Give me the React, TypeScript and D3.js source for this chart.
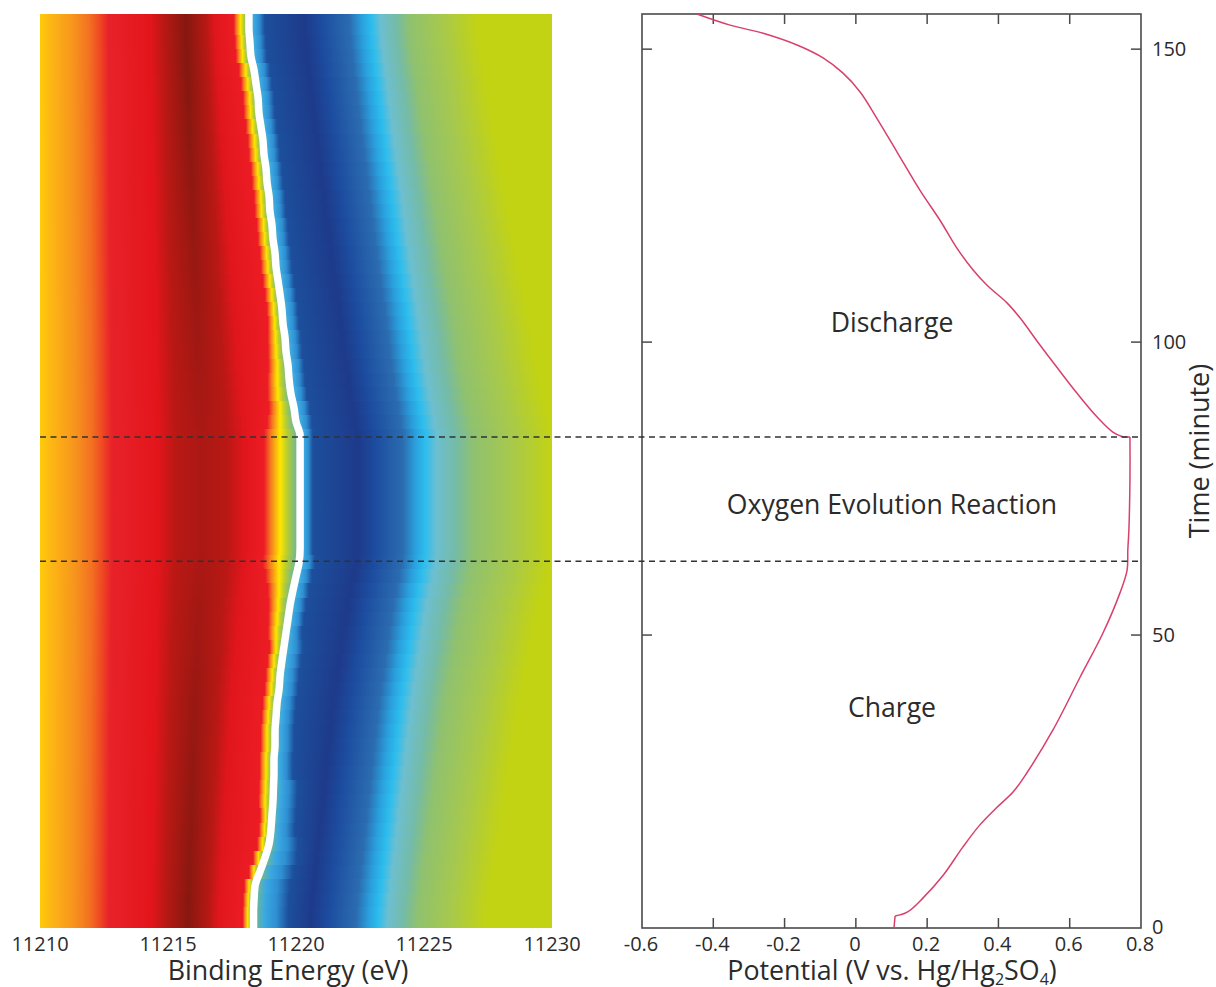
import React from "react";
import * as d3 from "d3";

// Heat-map: energy of the white ridge for each scan (one scan every 2.4 minutes, from t=0)
const scanStep = 2.4;
const ridgeEnergy = [
  11218.34, 11218.34, 11218.36, 11218.40, 11218.59, 11218.79, 11218.95, 11219.02, 11219.06, 11219.10,
  11219.12, 11219.14, 11219.14, 11219.18, 11219.18, 11219.22, 11219.26, 11219.34, 11219.38, 11219.45,
  11219.53, 11219.61, 11219.69, 11219.77, 11219.88, 11220.00, 11220.12, 11220.16, 11220.16, 11220.16,
  11220.16, 11220.16, 11220.16, 11220.16, 11220.16, 11220.16, 11220.00, 11219.92, 11219.80, 11219.73,
  11219.69, 11219.61, 11219.57, 11219.49, 11219.45, 11219.38, 11219.30, 11219.22, 11219.18, 11219.10,
  11219.06, 11218.98, 11218.95, 11218.87, 11218.83, 11218.75, 11218.71, 11218.63, 11218.55, 11218.52,
  11218.44, 11218.36, 11218.24, 11218.20, 11218.16, 11218.16,
];
// Offset (eV) of the broad bands away from the ridge zone, for the same scans
const bandOffset = [
  -1.85, -1.82, -1.78, -1.72, -1.66, -1.6, -1.54, -1.48, -1.42, -1.36,
  -1.3, -1.24, -1.18, -1.12, -1.06, -1.0, -0.94, -0.86, -0.78, -0.7,
  -0.62, -0.54, -0.46, -0.38, -0.26, -0.14, -0.04, 0, 0, 0,
  0, 0, 0, 0, 0, 0, -0.1, -0.18, -0.28, -0.36,
  -0.44, -0.52, -0.58, -0.66, -0.72, -0.8, -0.88, -0.96, -1.02, -1.1,
  -1.16, -1.24, -1.3, -1.38, -1.44, -1.52, -1.58, -1.66, -1.72, -1.78,
  -1.84, -1.92, -1.98, -2.04, -2.08, -2.1,
];
// Width of the yellow/green fringe (left of the ridge) and light-blue fringe (right of it), per scan
const warmFringe = [
  0.3, 0.3, 0.3, 0.3, 0.3, 0.33, 0.33, 0.33, 0.33, 0.4,
  0.4, 0.4, 0.4, 0.4, 0.4, 0.4, 0.4, 0.4, 0.4, 0.4,
  0.4, 0.5, 0.55, 0.6, 0.7, 0.85, 1, 1, 1, 1,
  1, 1, 1, 1, 1, 1, 0.8, 0.7, 0.65, 0.6,
  0.55, 0.5, 0.48, 0.42, 0.42, 0.42, 0.42, 0.42, 0.42, 0.42,
  0.42, 0.42, 0.42, 0.42, 0.42, 0.42, 0.42, 0.42, 0.42, 0.42,
  0.42, 0.42, 0.42, 0.42, 0.42, 0.42,
];
const coolFringe = [
  2.2, 2.2, 2.2, 2.2, 2.1, 2, 1.8, 1.5, 1.5, 1.5,
  1.5, 1.2, 1.2, 1.2, 1.2, 1.2, 1.2, 1.2, 1.2, 1.2,
  1.2, 1, 1, 1, 1, 1, 1, 0.8, 0.8, 0.8,
  0.8, 0.8, 0.8, 0.8, 0.8, 0.8, 1, 1, 1, 1,
  1, 1, 1, 1, 1, 1, 1, 1, 1, 1,
  1, 1, 1, 1, 1, 1, 1, 1, 1, 1,
  1, 1, 1, 1, 1, 1,
];
const referenceRidge = 11220.16;

// Colour profile of a scan at the reference ridge position
const profileEnergy = [
  11210.0, 11210.39, 11211.37, 11212.03, 11212.42, 11212.81, 11214.61, 11215.3, 11216.33, 11217.3, 11217.97,
  11218.75, 11219.02, 11219.38, 11219.65, 11219.88, 11220.36, 11220.56, 11220.78, 11222.42, 11223.09, 11224.18, 11224.65,
  11225.04, 11225.51, 11226.21, 11226.94, 11228.48, 11230.0,
];
const profileColor = [
  "#ffcb0a", "#fdb913", "#f7941d", "#f37021", "#ef4a23", "#e8222a", "#e3151b", "#b91814", "dark", "#b91814", "#e0161c",
  "#ed1c24", "#f57e20", "#ffe600", "#b9ce2e", "#8cc06e", "#3aa8e2", "#2f8fd2", "#1c4f9c", "#1e3a8a", "#1c4c9f", "#2b6cb0", "#2a9fdc",
  "#2cbdee", "#6dbfd0", "#74bba8", "#8fc16f", "#a8c94a", "#c2d314",
];
// Which feature each stop follows: band, warm fringe or cool fringe
const profileAnchor = [
  "band", "band", "band", "band", "band", "band", "band", "band", "band", "band", "band",
  "warm", "warm", "warm", "warm", "warm", "cool", "cool", "cool", "band", "band", "band", "band",
  "band", "band", "band", "band", "band", "band",
];
const profileFollow = [
  0, 0.02, 0.03, 0.05, 0.05, 0.07, 0.15, 0.22, 0.3, 0.38, 0.55,
  1, 1, 1, 1, 1, 1, 1, 1, 1, 1, 1, 1,
  1, 1.05, 1.1, 1.2, 1.3, 1.4,
];
const darkRedColors = ["#ab1814", "#851810"];

// Potential vs time
const potential = [
  0.107, 0.11, 0.144, 0.188, 0.245, 0.3, 0.348, 0.396, 0.441, 0.48, 0.553, 0.629, 0.693, 0.741, 0.761, 0.763, 0.766,
  0.769, 0.769, 0.75, 0.722, 0.677, 0.62, 0.564, 0.508, 0.461, 0.424, 0.368, 0.329, 0.284, 0.236, 0.18, 0.116,
  0.059, 0.012, -0.036, -0.092, -0.165, -0.26, -0.353, -0.446,
];
const potentialTime = [
  0, 2.05, 2.7, 5.1, 9.0, 13.8, 17.6, 20.6, 23.2, 26.5, 33.8, 42.8, 50.3, 57.2, 61.1, 64.5, 67.9,
  76.5, 83.8, 83.8, 84.6, 87.2, 91.3, 95.7, 100.2, 104.1, 106.7, 109.7, 112.3, 116.0, 120.8, 125.9, 132.4,
  138.2, 142.7, 145.9, 148.5, 150.7, 152.7, 154.1, 156,
];

const energyTicks = [11210, 11215, 11220, 11225, 11230];
const potentialTicks = [-0.6, -0.4, -0.2, 0, 0.2, 0.4, 0.6, 0.8];
const timeTicks = [0, 50, 100, 150];
const regionBoundaries = [83.8, 62.6];
const regionLabels = ["Discharge", "Oxygen Evolution Reaction", "Charge"];
const regionLabelTimes = [103.3, 72.2, 37.6];

const FONT = "'Open Sans', sans-serif";
const INK = "#2b2b2b";
const AXIS = "#4a4a4a";

const timeMax = 156;
const y = d3.scaleLinear().domain([0, timeMax]).range([928, 14]);
const xE = d3.scaleLinear().domain([11210, 11230]).range([40, 552]);
const xV = d3.scaleLinear().domain([-0.6, 0.8]).range([642, 1141]);

export default function App() {
  const rows = ridgeEnergy.map((r, i) => ({
    t: i * scanStep,
    band: bandOffset[i],
    warm: warmFringe[i],
    cool: coolFringe[i],
    ridge: r,
  }));
  const idx = potential.map((_, i) => i);
  const curve = d3
    .line<number>()
    .x((i) => xV(potential[i]))
    .y((i) => y(potentialTime[i]))
    .curve(d3.curveCatmullRom.alpha(0.5));
  const straight = d3
    .line<number>()
    .x((i) => xV(potential[i]))
    .y((i) => y(potentialTime[i]));
  const ridgeLine = d3
    .line<(typeof rows)[number]>()
    .x((d) => xE(d.ridge))
    .y((d) => y(d.t))
    .curve(d3.curveMonotoneY);
  const dark = d3.interpolateRgb(darkRedColors[0], darkRedColors[1]);

  const stopEnergy = (row: (typeof rows)[number], j: number) => {
    const e = profileEnergy[j];
    if (profileAnchor[j] === "warm") return row.ridge - (referenceRidge - e) * row.warm;
    if (profileAnchor[j] === "cool") return row.ridge + (e - referenceRidge) * row.cool;
    return e + row.band * profileFollow[j];
  };

  return (
    <svg
      width={1216}
      height={987}
      viewBox="0 0 1216 987"
      style={{ position: "absolute", left: 0, top: 0, display: "block", background: "#fff" }}
    >
      <defs>
        {rows.map((row, i) => {
          let last = 0;
          return (
            <linearGradient
              key={i}
              id={`scan${i}`}
              gradientUnits="userSpaceOnUse"
              x1={xE(11210)}
              x2={xE(11230)}
              y1={0}
              y2={0}
            >
              {profileEnergy.map((_, j) => {
                last = Math.max(last, (xE(stopEnergy(row, j)) - xE(11210)) / (xE(11230) - xE(11210)));
                return (
                  <stop
                    key={j}
                    offset={last}
                    stopColor={profileColor[j] === "dark" ? dark(Math.min(1, -row.band / 1.9)) : profileColor[j]}
                  />
                );
              })}
            </linearGradient>
          );
        })}
        <clipPath id="heat">
          <rect x={xE(11210)} y={y(timeMax)} width={xE(11230) - xE(11210)} height={y(0) - y(timeMax)} />
        </clipPath>
      </defs>

      <g clipPath="url(#heat)">
        {rows.map((row, i) => {
          const top = Math.round(y(Math.min(timeMax, row.t + scanStep / 2)));
          const bottom = Math.round(y(Math.max(0, row.t - scanStep / 2)));
          return (
            <rect
              key={i}
              x={xE(11210)}
              y={top}
              width={xE(11230) - xE(11210)}
              height={bottom - top}
              fill={`url(#scan${i})`}
              shapeRendering="crispEdges"
            />
          );
        })}
        <path d={ridgeLine(rows) ?? ""} fill="none" stroke="#fff" strokeWidth={7.5} />
      </g>

      {/* Potential panel */}
      <rect
        x={xV(-0.6)}
        y={y(timeMax)}
        width={xV(0.8) - xV(-0.6)}
        height={y(0) - y(timeMax)}
        fill="none"
        stroke={AXIS}
        strokeWidth={1.6}
      />
      {potentialTicks.slice(1, -1).map((v) => (
        <g key={v} stroke={AXIS} strokeWidth={1.5}>
          <line x1={xV(v)} x2={xV(v)} y1={y(0)} y2={y(0) - 10} />
          <line x1={xV(v)} x2={xV(v)} y1={y(timeMax)} y2={y(timeMax) + 10} />
        </g>
      ))}
      {timeTicks.slice(1).map((t) => (
        <g key={t} stroke={AXIS} strokeWidth={1.5}>
          <line x1={xV(-0.6)} x2={xV(-0.6) + 10} y1={y(t)} y2={y(t)} />
          <line x1={xV(0.8)} x2={xV(0.8) - 10} y1={y(t)} y2={y(t)} />
        </g>
      ))}
      {[idx.slice(1, 19), idx.slice(19)].map((seg, k) => (
        <path key={k} d={curve(seg) ?? ""} fill="none" stroke="#d8406c" strokeWidth={1.5} />
      ))}
      {[idx.slice(0, 2), idx.slice(18, 20)].map((seg, k) => (
        <path key={k} d={straight(seg) ?? ""} fill="none" stroke="#d8406c" strokeWidth={1.5} />
      ))}

      {/* Region boundaries */}
      {regionBoundaries.map((t) => (
        <line
          key={t}
          x1={xE(11210)}
          x2={xV(0.8)}
          y1={y(t)}
          y2={y(t)}
          stroke="#2f3336"
          strokeWidth={1.5}
          strokeDasharray="6 4.5"
        />
      ))}

      <g fontFamily={FONT} fill={INK}>
        {energyTicks.map((e) => (
          <text key={e} x={xE(e)} y={951} fontSize={20} textAnchor="middle">
            {e}
          </text>
        ))}
        {potentialTicks.map((v) => (
          <text key={v} x={xV(v) - 1} y={951} fontSize={20} textAnchor="middle">
            {v}
          </text>
        ))}
        {timeTicks.map((t) => (
          <text key={t} x={1152} y={y(t) + (t === 0 ? 6 : 7)} fontSize={20} textAnchor="start">
            {t}
          </text>
        ))}
        {regionLabels.map((label, i) => (
          <text key={label} x={892} y={y(regionLabelTimes[i]) + 9} fontSize={26.6} textAnchor="middle">
            {label}
          </text>
        ))}
        <text x={288} y={980} fontSize={26.8} textAnchor="middle">
          Binding Energy (eV)
        </text>
        <text x={892} y={980} fontSize={26.8} textAnchor="middle">
          Potential (V vs. Hg/Hg
          <tspan fontSize={16} dy={5}>2</tspan>
          <tspan dy={-5}>SO</tspan>
          <tspan fontSize={16} dy={5}>4</tspan>
          <tspan dy={-5}>)</tspan>
        </text>
        <text transform="translate(1209,451) rotate(-90)" fontSize={27} textAnchor="middle">
          Time (minute)
        </text>
      </g>
    </svg>
  );
}
